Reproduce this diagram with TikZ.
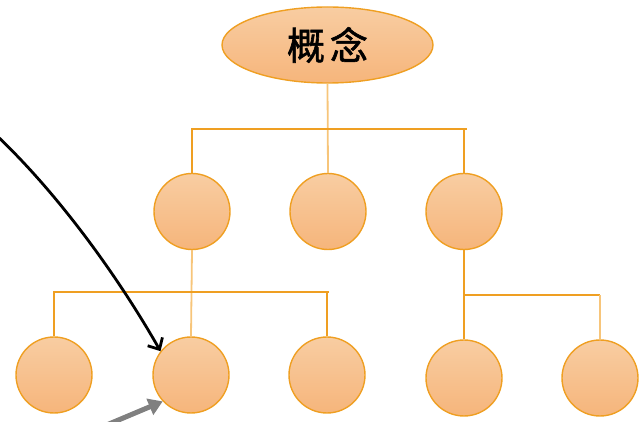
\documentclass[tikz,border=0pt]{standalone}
\usepackage{fontspec}
\newfontfamily\cjk[FakeBold=1.6]{Noto Sans CJK SC}
\usetikzlibrary{shapes.geometric,arrows.meta}
\definecolor{edgeor}{HTML}{EF9F22}
\definecolor{lightor}{HTML}{F7C57A}
\definecolor{filltop}{HTML}{F8CDA2}
\definecolor{fillbot}{HTML}{F6B57B}
\tikzset{
  bubble/.style={circle, draw=edgeor, line width=1.4pt, minimum size=76pt, inner sep=0pt,
    top color=filltop, bottom color=fillbot},
  oval/.style={ellipse, draw=edgeor, line width=1.4pt, minimum width=211pt, minimum height=76pt, inner sep=0pt,
    top color=filltop, bottom color=fillbot},
  conn/.style={draw=edgeor, line width=2.2pt},
  thinconn/.style={draw=lightor, line width=1.8pt},
  pointer/.style={draw=black, line width=2.8pt, -{Straight Barb[length=9pt,width=17pt,line width=2.8pt]}},
  greyptr/.style={draw=gray, line width=5pt, -{Triangle[length=14pt,width=17pt]}}
}
\begin{document}
\begin{tikzpicture}[x=1pt,y=-1pt]
\useasboundingbox (0,0) rectangle (641,422);
\clip (0,0) rectangle (641,422);
% nodes
\node[oval] (top) at (327.5,45) {\cjk\fontsize{38}{42}\selectfont 概\hspace{5pt}念};
\node[bubble] (m1) at (192,211.5) {};
\node[bubble] (m2) at (328,211.5) {};
\node[bubble] (m3) at (464,211.5) {};
\node[bubble] (l1) at (54,375) {};
\node[bubble] (l2) at (191,375) {};
\node[bubble] (l3) at (327,375) {};
\node[bubble] (r1) at (464,378) {};
\node[bubble] (r2) at (600,378) {};
% bar coordinates
\coordinate (b1l) at (192,129);
\coordinate (b1r) at (467,129);
\coordinate (b2l) at (54,292);
\coordinate (b2r) at (329,292);
\coordinate (b3l) at (464,295);
\coordinate (b3r) at (600,295);
% connectors
\draw[thinconn] (top.south) -- (m2.north);
\draw[conn] (m1.north) -- (b1l) -- (b1r);
\draw[conn] (m3.north) -- (m3.north |- b1r);
\draw[thinconn] (m1.south) -- (l2.north);
\draw[conn] (l1.north) -- (b2l) -- (b2r);
\draw[conn] (l3.north) -- (l3.north |- b2r);
\draw[conn] (m3.south) -- (r1.north);
\draw[conn] (b3l) -- (b3r);
\draw[thinconn] (r2.north) -- (r2.north |- b3r);
% pointers
\coordinate (p1) at (-6,133);
\draw[pointer] (p1) .. controls (60,195) and (120,280) .. (l2.142);
\coordinate (p2) at (90,432);
\draw[greyptr] (p2) -- (l2.223);
\end{tikzpicture}
\end{document}
